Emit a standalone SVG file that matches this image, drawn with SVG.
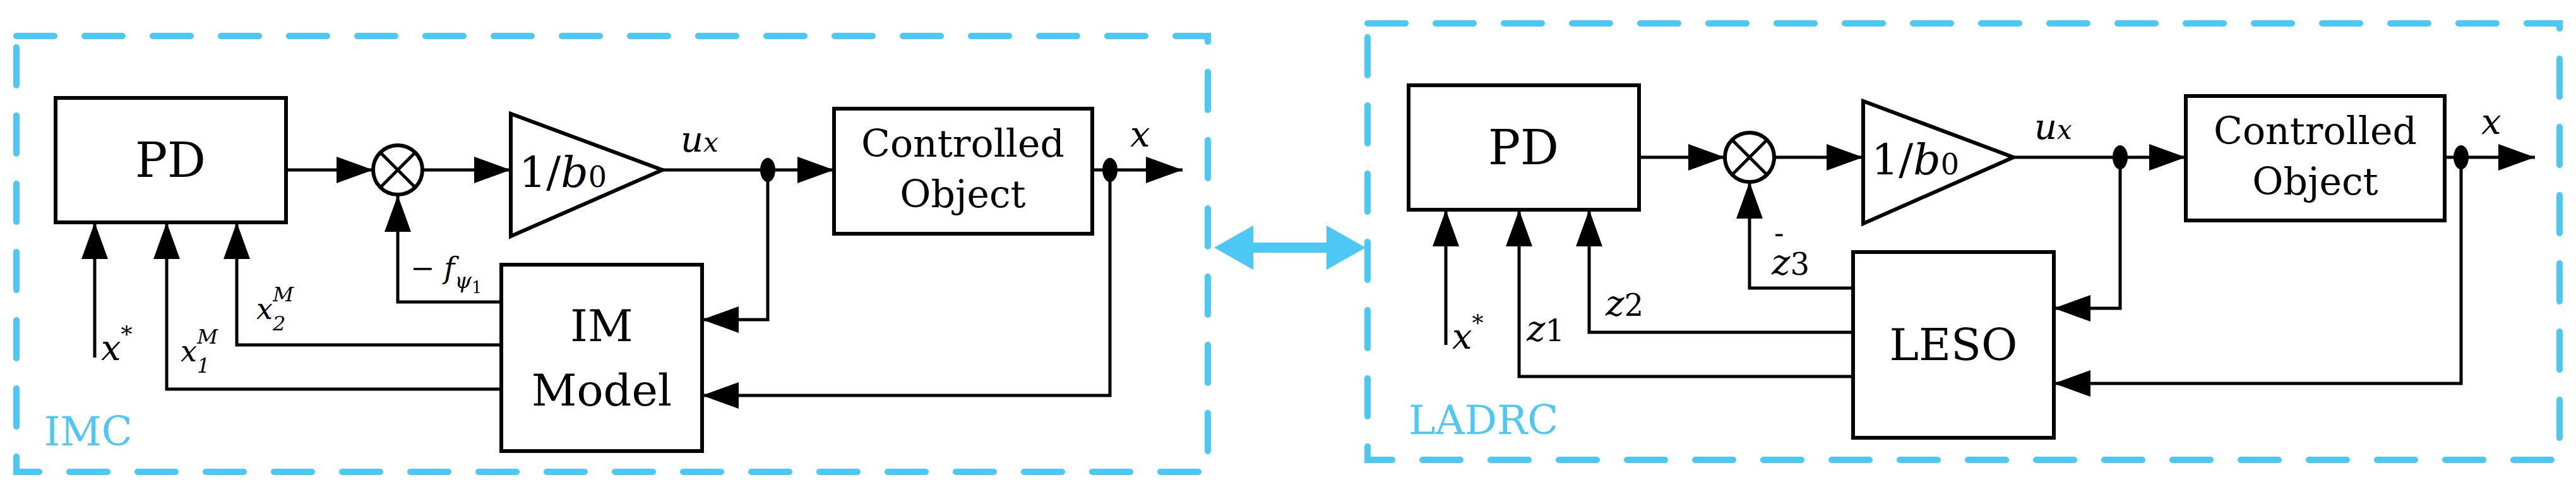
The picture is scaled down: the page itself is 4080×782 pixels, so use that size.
<svg xmlns="http://www.w3.org/2000/svg" width="4080" height="782" viewBox="0 0 4080 782">
<style>
.blk{fill:#fff;stroke:#000;stroke-width:6}
.w{fill:none;stroke:#000;stroke-width:5}
.ds{fill:none;stroke:#4DC8F5;stroke-width:10;stroke-dasharray:60 48;stroke-linecap:round}
text{font-family:'DejaVu Serif','Liberation Serif',serif}
.i{font-style:italic}
.c{fill:#4DC8F5;font-size:64px}
</style>
<defs>
<marker id="a" markerUnits="userSpaceOnUse" markerWidth="60" markerHeight="42" refX="58" refY="21" orient="auto"><path d="M0,0 L58,21 L0,42 z" fill="#000"/></marker>
</defs>
<rect class="ds" x="26" y="57" width="1887" height="690"/>
<rect class="ds" x="2166" y="37" width="1888" height="691"/>
<text class="c" x="70" y="705">IMC</text>
<text class="c" x="2231" y="687">LADRC</text>
<g id="dbl"><path d="M1975,392 H2120" stroke="#4DC8F5" stroke-width="16"/><polygon points="1923,392 1985,357 1985,427" fill="#4DC8F5"/><polygon points="2163,392 2101,357 2101,427" fill="#4DC8F5"/></g>
<g id="connectors">
<path class="w" d="M453,269 H591" marker-end="url(#a)"/>
<path class="w" d="M669,269 H809" marker-end="url(#a)"/>
<path class="w" d="M1049,269 H1321" marker-end="url(#a)"/>
<path class="w" d="M1730,269 H1873" marker-end="url(#a)"/>
<path class="w" d="M1758,269 V626 H1112" marker-end="url(#a)"/>
<path class="w" d="M1216,269 V506 H1112" marker-end="url(#a)"/>
<path class="w" d="M794,478 H630 V309" marker-end="url(#a)"/>
<path class="w" d="M794,546 H375 V352" marker-end="url(#a)"/>
<path class="w" d="M794,616 H264 V352" marker-end="url(#a)"/>
<path class="w" d="M150,566 V352" marker-end="url(#a)"/>
<ellipse cx="1216" cy="269" rx="12" ry="19"/>
<ellipse cx="1758" cy="269" rx="12" ry="19"/>
<path class="w" d="M2596,249 H2732" marker-end="url(#a)"/>
<path class="w" d="M2810,249 H2951" marker-end="url(#a)"/>
<path class="w" d="M3189,249 H3462" marker-end="url(#a)"/>
<path class="w" d="M3872,249 H4015" marker-end="url(#a)"/>
<path class="w" d="M3898,249 V607 H3253" marker-end="url(#a)"/>
<path class="w" d="M3358,249 V488 H3253" marker-end="url(#a)"/>
<path class="w" d="M2935,456 H2771 V288" marker-end="url(#a)"/>
<path class="w" d="M2935,526 H2517 V332" marker-end="url(#a)"/>
<path class="w" d="M2935,596 H2406 V332" marker-end="url(#a)"/>
<path class="w" d="M2290,546 V332" marker-end="url(#a)"/>
<ellipse cx="3358" cy="249" rx="12" ry="19"/>
<ellipse cx="3898" cy="249" rx="12" ry="19"/>
</g>
<g id="pd1"><rect class="blk" x="88" y="155" width="365" height="197"/><text x="270" y="280" font-size="76" text-anchor="middle">PD</text></g>
<g id="sum1"><circle class="blk" cx="630" cy="269" r="39"/><path class="w" d="M603,242 L657,296 M657,242 L603,296"/></g>
<g id="gain1"><polygon class="blk" points="809,180 1049,269 809,374"/><text x="822" y="296" font-size="68">1/<tspan class="i">b</tspan><tspan font-size="46">0</tspan></text></g>
<g id="co1"><rect class="blk" x="1321" y="172" width="409" height="198"/><text x="1525" y="248" font-size="60" text-anchor="middle">Controlled</text><text x="1525" y="328" font-size="60" text-anchor="middle">Object</text></g>
<g id="im"><rect class="blk" x="794" y="419" width="318" height="295"/><text x="953" y="540" font-size="70" text-anchor="middle">IM</text><text x="953" y="642" font-size="70" text-anchor="middle">Model</text></g>
<g id="pd2"><rect class="blk" x="2231" y="135" width="365" height="197"/><text x="2413" y="260" font-size="76" text-anchor="middle">PD</text></g>
<g id="sum2"><circle class="blk" cx="2771" cy="249" r="39"/><path class="w" d="M2744,222 L2798,276 M2798,222 L2744,276"/></g>
<g id="gain2"><polygon class="blk" points="2951,160 3189,249 2951,354"/><text x="2964" y="276" font-size="68">1/<tspan class="i">b</tspan><tspan font-size="46">0</tspan></text></g>
<g id="co2"><rect class="blk" x="3462" y="152" width="410" height="197"/><text x="3667" y="228" font-size="60" text-anchor="middle">Controlled</text><text x="3667" y="308" font-size="60" text-anchor="middle">Object</text></g>
<g id="leso"><rect class="blk" x="2935" y="399" width="318" height="294"/><text x="3094" y="570" font-size="70" text-anchor="middle">LESO</text></g>
<g font-size="56">
<text x="1078" y="240" class="i">u<tspan font-size="42">x</tspan></text>
<text x="1790" y="232" class="i">x</text>
<text x="160" y="570" class="i">x<tspan font-size="36" dy="-28">*</tspan></text>
<text x="286" y="572" class="i" font-size="46">x<tspan font-size="32" dy="18">1</tspan><tspan font-size="32" dx="-20" dy="-46">M</tspan></text>
<text x="406" y="505" class="i" font-size="46">x<tspan font-size="32" dy="18">2</tspan><tspan font-size="32" dx="-20" dy="-46">M</tspan></text>
<text x="650" y="440" font-size="46">− <tspan class="i">f</tspan><tspan class="i" font-size="34" dy="16">ψ</tspan><tspan font-size="26" dy="8">1</tspan></text>
<text x="3222" y="220" class="i">u<tspan font-size="42">x</tspan></text>
<text x="3930" y="212" class="i">x</text>
<text x="2300" y="552" class="i">x<tspan font-size="36" dy="-28">*</tspan></text>
<text x="2418" y="540" class="i">z<tspan font-style="normal" font-size="48">1</tspan></text>
<text x="2543" y="500" class="i">z<tspan font-style="normal" font-size="48">2</tspan></text>
<text x="2810" y="385" font-size="46">-</text>
<text x="2806" y="435" class="i">z<tspan font-style="normal" font-size="48">3</tspan></text>
</g>
</svg>
